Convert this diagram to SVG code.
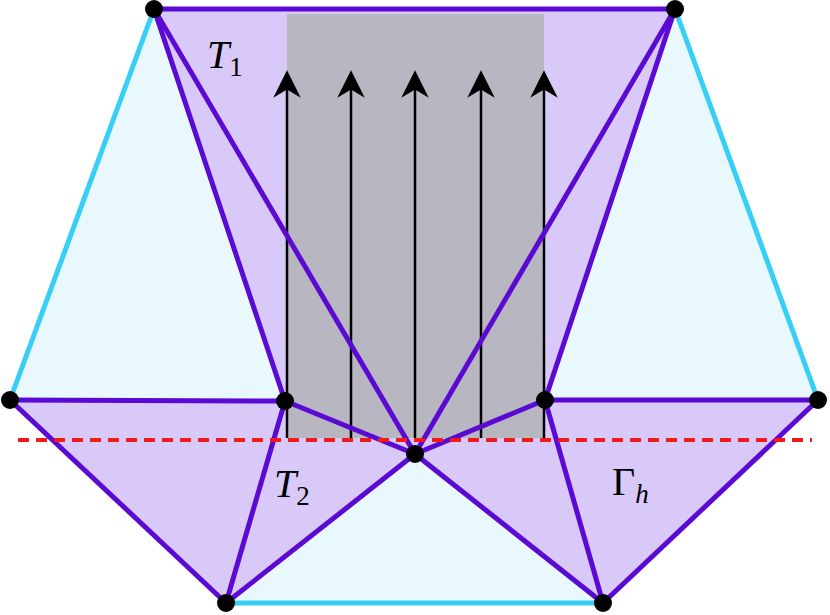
<svg xmlns="http://www.w3.org/2000/svg" width="830" height="615" viewBox="0 0 830 615">
<defs>
<style>
.p{fill:#d9c9f9;stroke:none}
.c{fill:#e8f8fd;stroke:none}
.e{stroke:#5a0ad2;stroke-width:5;stroke-linecap:round}
.ec{stroke:#38cff7;stroke-width:5;stroke-linecap:round}
.a{stroke:#000;stroke-width:2.5}
.n{fill:#000}
.t{font-family:"Liberation Serif","DejaVu Serif",serif;font-size:40px;fill:#000}
.i{font-style:italic}
.s{font-size:27px;font-style:normal}
.si{font-size:27px;font-style:italic}
</style>
<marker id="ah" viewBox="0 0 10 10" refX="5" refY="5" markerWidth="11" markerHeight="13" orient="auto"><path d="M0,0 L10,5 L0,10 L3,5 z" fill="#000"/></marker>
</defs>
<g id="fills">
<polygon class="c" points="154,9 10,400 285,401"/>
<polygon class="c" points="675,9 818,400 545,400"/>
<polygon class="c" points="226,603 415,454 603,603"/>
<polygon class="p" points="154,9 675,9 545,400 415,454 285,401"/>
<polygon class="p" points="10,400 285,401 415,454 226,603"/>
<polygon class="p" points="415,454 545,400 818,400 603,603"/>
<rect x="287" y="14" width="257" height="424" fill="#b8b6c1"/>
</g>
<g id="connectors">
<line class="a" x1="287" y1="438" x2="287" y2="84" marker-end="url(#ah)"/>
<line class="a" x1="351" y1="438" x2="351" y2="84" marker-end="url(#ah)"/>
<line class="a" x1="415" y1="438" x2="415" y2="84" marker-end="url(#ah)"/>
<line class="a" x1="481" y1="438" x2="481" y2="84" marker-end="url(#ah)"/>
<line class="a" x1="544" y1="438" x2="544" y2="84" marker-end="url(#ah)"/>
<line class="ec" x1="154" y1="9" x2="10" y2="400"/>
<line class="ec" x1="675" y1="9" x2="818" y2="400"/>
<line class="ec" x1="226" y1="603" x2="603" y2="603"/>
<line class="e" x1="154" y1="9" x2="675" y2="9"/>
<line class="e" x1="154" y1="9" x2="285" y2="401"/>
<line class="e" x1="154" y1="9" x2="415" y2="454"/>
<line class="e" x1="675" y1="9" x2="415" y2="454"/>
<line class="e" x1="675" y1="9" x2="545" y2="400"/>
<line class="e" x1="10" y1="400" x2="285" y2="401"/>
<line class="e" x1="285" y1="401" x2="415" y2="454"/>
<line class="e" x1="415" y1="454" x2="545" y2="400"/>
<line class="e" x1="545" y1="400" x2="818" y2="400"/>
<line class="e" x1="10" y1="400" x2="226" y2="603"/>
<line class="e" x1="285" y1="401" x2="226" y2="603"/>
<line class="e" x1="415" y1="454" x2="226" y2="603"/>
<line class="e" x1="415" y1="454" x2="603" y2="603"/>
<line class="e" x1="545" y1="400" x2="603" y2="603"/>
<line class="e" x1="818" y1="400" x2="603" y2="603"/>
<line x1="18" y1="440" x2="812" y2="440" stroke="#f01a1a" stroke-width="4" stroke-dasharray="11,7"/>
</g>
<g id="nodes">
<circle id="nA" class="n" cx="154" cy="9" r="9"/>
<circle id="nB" class="n" cx="675" cy="9" r="9"/>
<circle id="nC" class="n" cx="10" cy="400" r="9"/>
<circle id="nD" class="n" cx="285" cy="401" r="9"/>
<circle id="nE" class="n" cx="545" cy="400" r="9"/>
<circle id="nF" class="n" cx="818" cy="400" r="9"/>
<circle id="nG" class="n" cx="415" cy="454" r="9"/>
<circle id="nH" class="n" cx="226" cy="603" r="9"/>
<circle id="nI" class="n" cx="603" cy="603" r="9"/>
</g>
<g id="labels">
<text x="207" y="68" class="t i">T<tspan class="s" dy="8">1</tspan></text>
<text x="274" y="497" class="t i">T<tspan class="s" dy="8">2</tspan></text>
<text x="612" y="495" class="t">Γ<tspan class="si" dy="8">h</tspan></text>
</g>
</svg>
